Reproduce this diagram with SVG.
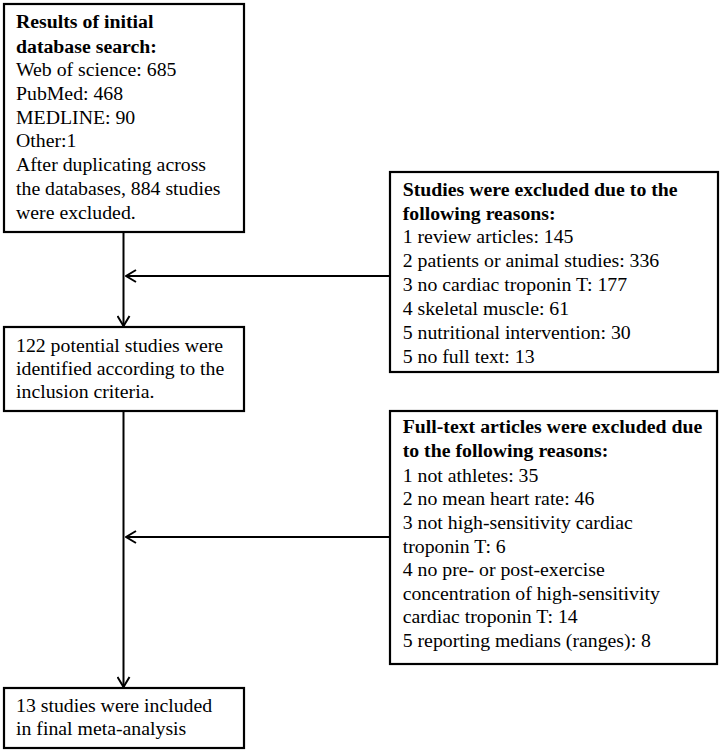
<svg xmlns="http://www.w3.org/2000/svg" width="722" height="752" viewBox="0 0 722 752">
<style>
.box{fill:#fff;stroke:#000;stroke-width:2.2}
text{font-family:"Liberation Serif","Times New Roman",serif;font-size:19.8px;fill:#000}
.b{font-weight:bold}
.ln{stroke:#000;stroke-width:2;fill:none}
</style>
<defs>
<marker id="ah" viewBox="0 0 12 14" refX="11" refY="7" markerWidth="12" markerHeight="14" markerUnits="userSpaceOnUse" orient="auto">
<path d="M1,1 L11,7 L1,13" fill="none" stroke="#000" stroke-width="2"/>
</marker>
</defs>
<g id="connectors">
<line class="ln" x1="123.5" y1="232" x2="123.5" y2="326" marker-end="url(#ah)"/>
<line class="ln" x1="390" y1="276" x2="126" y2="276" marker-end="url(#ah)"/>
<line class="ln" x1="123.5" y1="411" x2="123.5" y2="687" marker-end="url(#ah)"/>
<line class="ln" x1="390" y1="537" x2="126" y2="537" marker-end="url(#ah)"/>
</g>
<g id="search">
<rect class="box" x="4" y="4" width="240" height="228"/>
<text x="16" y="28.3" class="b">Results of initial</text>
<text x="16" y="52.5" class="b">database search:</text>
<text x="16" y="76">Web of science: 685</text>
<text x="16" y="100">PubMed: 468</text>
<text x="16" y="123.5">MEDLINE: 90</text>
<text x="16" y="147.3">Other:1</text>
<text x="16" y="170.8">After duplicating across</text>
<text x="16" y="195">the databases, 884 studies</text>
<text x="16" y="218.5">were excluded.</text>
</g>
<g id="excluded1">
<rect class="box" x="390" y="172" width="328" height="200"/>
<text x="402.7" y="195.7" class="b">Studies were excluded due to the</text>
<text x="402.7" y="219.5" class="b">following reasons:</text>
<text x="402.7" y="243">1 review articles: 145</text>
<text x="402.7" y="266.8">2 patients or animal studies: 336</text>
<text x="402.7" y="290.5">3 no cardiac troponin T: 177</text>
<text x="402.7" y="314.5">4 skeletal muscle: 61</text>
<text x="402.7" y="339">5 nutritional intervention: 30</text>
<text x="402.7" y="362.7">5 no full text: 13</text>
</g>
<g id="potential">
<rect class="box" x="4" y="327" width="240" height="84"/>
<text x="16" y="351.7">122 potential studies were</text>
<text x="16" y="375">identified according to the</text>
<text x="16" y="398.3">inclusion criteria.</text>
</g>
<g id="excluded2">
<rect class="box" x="390" y="411" width="327" height="253"/>
<text x="402.7" y="433.3" class="b">Full-text articles were excluded due</text>
<text x="402.7" y="457.3" class="b">to the following reasons:</text>
<text x="402.7" y="481.5">1 not athletes: 35</text>
<text x="402.7" y="505">2 no mean heart rate: 46</text>
<text x="402.7" y="528.5">3 not high-sensitivity  cardiac</text>
<text x="402.7" y="552.5">troponin T: 6</text>
<text x="402.7" y="576">4 no pre- or post-exercise</text>
<text x="402.7" y="600">concentration of high-sensitivity</text>
<text x="402.7" y="623.3">cardiac troponin T: 14</text>
<text x="402.7" y="646.7">5 reporting medians (ranges): 8</text>
</g>
<g id="included">
<rect class="box" x="4" y="688" width="240" height="60"/>
<text x="16" y="711.7">13 studies were included</text>
<text x="16" y="735">in final meta-analysis</text>
</g>
</svg>
